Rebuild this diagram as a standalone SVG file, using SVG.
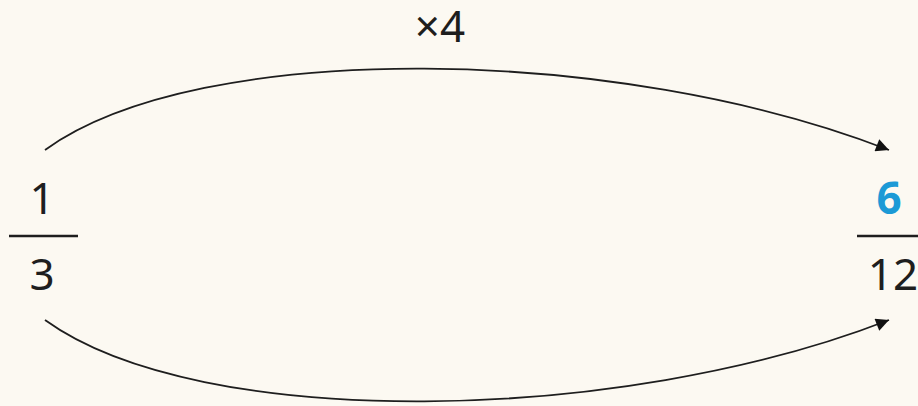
<svg xmlns="http://www.w3.org/2000/svg" width="918" height="406" viewBox="0 0 918 406">
<style>
.t{font-family:"Noto Sans","Open Sans","DejaVu Sans",sans-serif;font-size:44px;fill:#1e1e1e;text-anchor:middle}
.b{fill:#1c9ad6;font-weight:bold}
.bar{stroke:#1e1e1e;stroke-width:2.5}
.c{fill:none;stroke:#1e1e1e;stroke-width:1.8}
</style>
<defs>
<marker id="ah" viewBox="0 0 10 10" refX="10" refY="5" markerWidth="20" markerHeight="13" markerUnits="userSpaceOnUse" orient="auto">
<path d="M0,0 L10,5 L0,10 Z" fill="#111"/>
</marker>
</defs>
<rect width="918" height="406" fill="#fcf9f2"/>
<g id="connectors">
<path class="c" d="M45,150 C200,38 620,45 889,150" marker-end="url(#ah)"/>
<path class="c" d="M45,320 C200,432 620,425 889,320" marker-end="url(#ah)"/>
</g>
<g id="label-top"><text class="t" x="440" y="42">×4</text></g>
<g id="frac-left">
<text class="t" x="42" y="214">1</text>
<line class="bar" x1="9" y1="236" x2="78" y2="236"/>
<text class="t" x="42" y="290">3</text>
</g>
<g id="frac-right">
<text class="t b" x="889" y="214">6</text>
<line class="bar" x1="857" y1="236" x2="918" y2="236"/>
<text class="t" x="893" y="290">12</text>
</g>
</svg>
